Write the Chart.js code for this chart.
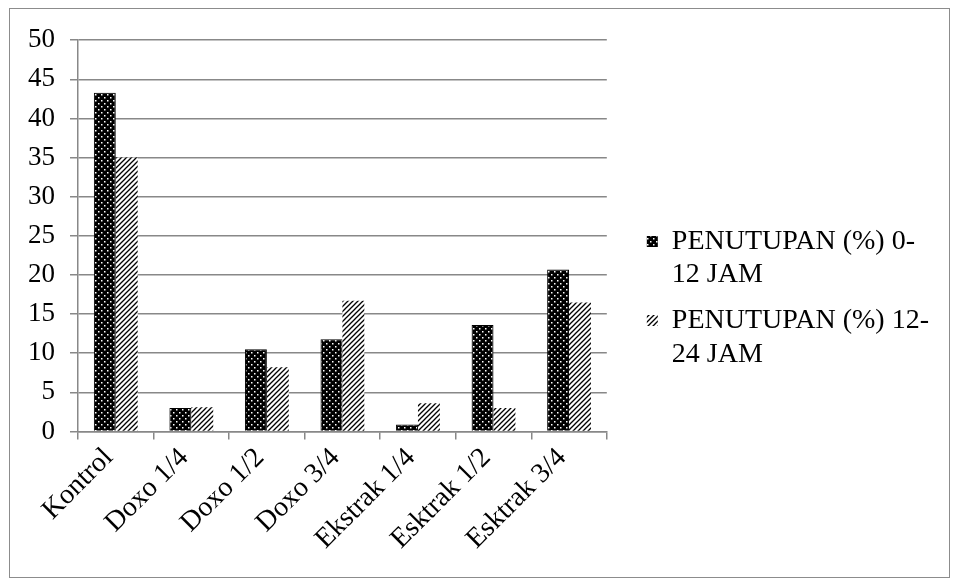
<!DOCTYPE html>
<html>
<head>
<meta charset="utf-8">
<script src="https://cdn.jsdelivr.net/npm/chart.js@4"></script>
<style>
  html, body { margin: 0; padding: 0; background: #fff; }
  #box {
    position: absolute; left: 9px; top: 8px;
    width: 939px; height: 568px;
    border: 1px solid #8c8c8c;
  }
  canvas { display: block; }
</style>
</head>
<body>
<div id="box"><canvas id="chart" width="939" height="568"></canvas></div>
<script>
const categories = ["Kontrol", "Doxo 1/4", "Doxo 1/2", "Doxo 3/4", "Ekstrak 1/4", "Esktrak 1/2", "Esktrak 3/4"];
const closing0to12 = [43.3, 3.0, 10.5, 11.8, 0.9, 13.6, 20.7];
const closing12to24 = [35.0, 3.1, 8.2, 16.7, 3.6, 3.0, 16.5];
const seriesNames = [["PENUTUPAN (%) 0-", "12 JAM"], ["PENUTUPAN (%) 12-", "24 JAM"]];
const yTicks = [0, 5, 10, 15, 20, 25, 30, 35, 40, 45, 50];

// fill patterns like the old office chart: black with white dots, white with black hatch
function dotPattern() {
  const c = document.createElement("canvas");
  c.width = 6; c.height = 6;
  const g = c.getContext("2d");
  g.fillStyle = "#000";
  g.fillRect(0, 0, 6, 6);
  g.fillStyle = "#fff";
  g.fillRect(1, 1, 1.5, 1.5);
  g.fillRect(4, 4, 1.5, 1.5);
  return g.createPattern(c, "repeat");
}

function hatchPattern() {
  const c = document.createElement("canvas");
  c.width = 5; c.height = 5;
  const g = c.getContext("2d");
  g.fillStyle = "#fff";
  g.fillRect(0, 0, 5, 5);
  g.strokeStyle = "#000";
  g.lineWidth = 1.3;
  g.beginPath();
  g.moveTo(-1, 6); g.lineTo(6, -1);
  g.moveTo(-1, 1); g.lineTo(1, -1);
  g.moveTo(4, 6); g.lineTo(6, 4);
  g.stroke();
  return g.createPattern(c, "repeat");
}

const fills = [dotPattern(), hatchPattern()];
const font = "'Liberation Serif', 'Times New Roman', serif";
const gridGray = "#888888";

new Chart(document.getElementById("chart"), {
  type: "bar",
  data: {
    labels: categories,
    datasets: [
      {
        label: seriesNames[0].join(""),
        data: closing0to12,
        backgroundColor: fills[0],
        borderColor: "#000",
        borderWidth: 1
      },
      {
        label: seriesNames[1].join(""),
        data: closing12to24,
        backgroundColor: fills[1],
        borderWidth: 0
      }
    ]
  },
  options: {
    responsive: false,
    animation: false,
    layout: { padding: { left: 3, top: 23, right: 10, bottom: 19 } },
    datasets: { bar: { categoryPercentage: 0.58, barPercentage: 1.0 } },
    plugins: {
      tooltip: { enabled: false },
      legend: {
        position: "right",
        align: "center",
        maxWidth: 340,
        // blank title only nudges the items down a little
        title: { display: true, text: " ", color: "#000", font: { size: 1 }, padding: { top: 5, bottom: 5 } },
        labels: {
          font: { family: font, size: 28 },
          color: "#000",
          boxWidth: 11,
          boxHeight: 11,
          padding: 12,
          generateLabels: (chart) => chart.data.datasets.map((ds, i) => ({
            text: seriesNames[i],
            fillStyle: fills[i],
            strokeStyle: "#000",
            fontColor: "#000",
            lineWidth: 0,
            datasetIndex: i
          }))
        }
      }
    },
    scales: {
      x: {
        grid: {
          display: true,
          drawOnChartArea: false,
          drawTicks: true,
          tickLength: 8,
          color: gridGray,
          lineWidth: 1.5
        },
        border: { color: gridGray, width: 1.5 },
        ticks: {
          font: { family: font, size: 28 },
          color: "#000",
          maxRotation: 45,
          minRotation: 45,
          autoSkip: false,
          padding: 2,
          labelOffset: -7
        }
      },
      y: {
        min: 0,
        max: 50,
        afterBuildTicks: (axis) => { axis.ticks = yTicks.map(v => ({ value: v })); },
        grid: {
          color: gridGray,
          lineWidth: 1.5,
          tickLength: 8
        },
        border: { color: gridGray, width: 1.5 },
        ticks: {
          font: { family: font, size: 27 },
          color: "#000",
          padding: 15
        }
      },
      // empty right axis: only keeps the gap between plot and legend
      gap: {
        type: "linear",
        position: "right",
        grid: { display: false },
        border: { display: false },
        ticks: { display: false },
        afterFit: (axis) => { axis.width = 28; }
      }
    }
  }
});
</script>
</body>
</html>
